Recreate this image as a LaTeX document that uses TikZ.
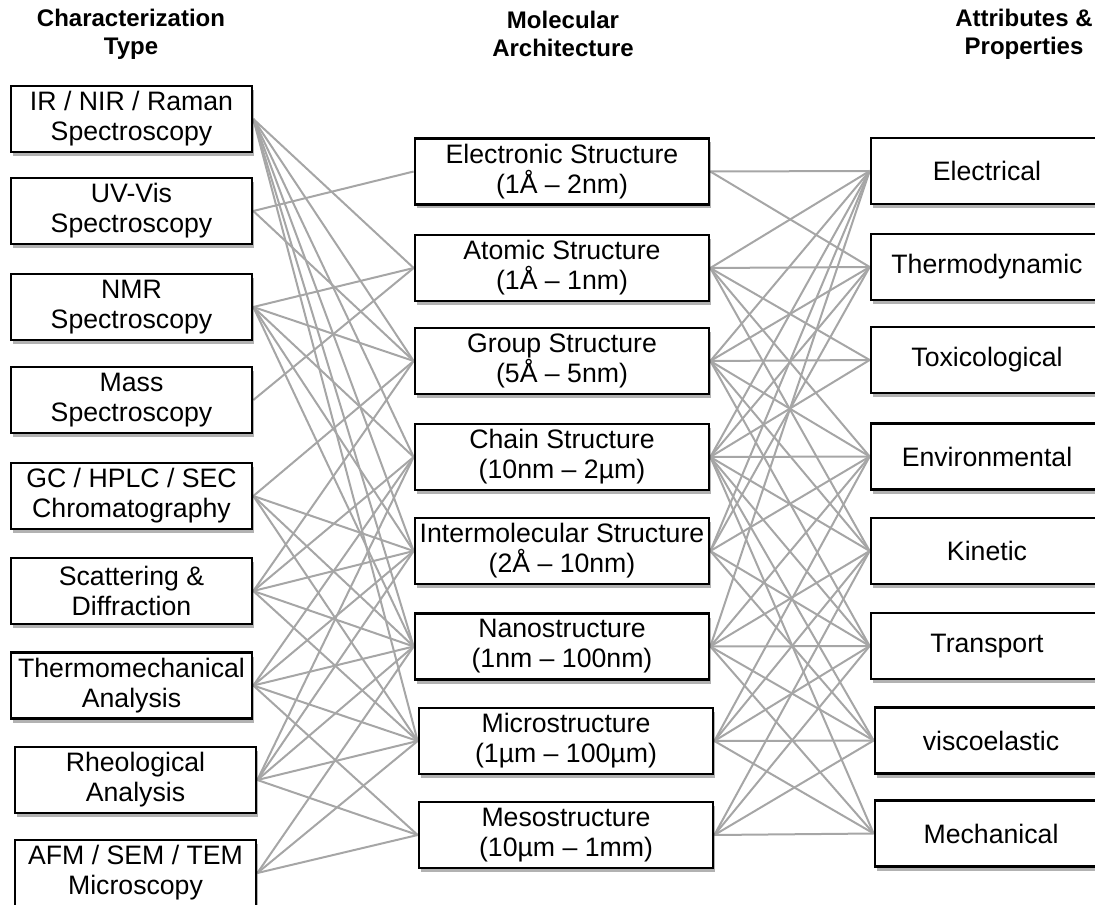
\documentclass[tikz,border=0pt]{standalone}
\usepackage{fontspec}
\setmainfont{Liberation Sans}
\usetikzlibrary{shadows}
\pgfdeclarelayer{bg}
\pgfsetlayers{bg,main}
\definecolor{edgegray}{RGB}{166,166,166}
\tikzset{
  box/.style={draw=black, line width=2pt, fill=white, align=center, inner sep=0pt,
    minimum height=49.5pt, font=\fontsize{20}{22.5}\selectfont,
    drop shadow={shadow xshift=1.5pt, shadow yshift=-3pt, fill=black, opacity=0.3}},
  lbox/.style={box, minimum width=180.75pt},
  mbox/.style={box, minimum width=220.5pt},
  rbox/.style={box, minimum width=174pt},
  head/.style={align=center, font=\fontsize{18}{21}\selectfont\bfseries},
  link/.style={draw=edgegray, line width=1.5pt},
}
\begin{document}
\begin{tikzpicture}[x=0.75pt,y=-0.75pt]
\useasboundingbox (0,0) rectangle (1095,905);
\node[head] (h1) at (131,34) {Characterization\\Type};
\node[head] (h2) at (563,34) {Molecular\\Architecture};
\node[head] (h3) at (1024,34) {Attributes \&\\Properties};

\node[lbox] (L1) at (131.5,119) {IR / NIR / Raman\\Spectroscopy};
\node[lbox] (L2) at (131.5,211) {UV-Vis\\Spectroscopy};
\node[lbox] (L3) at (131.5,307) {NMR\\Spectroscopy};
\node[lbox] (L4) at (131.5,400) {Mass\\Spectroscopy};
\node[lbox] (L5) at (131.5,496) {GC / HPLC / SEC\\Chromatography};
\node[lbox] (L6) at (131.5,591) {Scattering \&\\Diffraction};
\node[lbox] (L7) at (131.5,685.5) {Thermomechanical\\Analysis};
\node[lbox] (L8) at (135.5,780) {Rheological\\Analysis};
\node[lbox] (L9) at (135.5,873) {AFM / SEM / TEM\\Microscopy};

\node[mbox] (M1) at (562,171.5) {Electronic Structure\\(1Å – 2nm)};
\node[mbox] (M2) at (562,268) {Atomic Structure\\(1Å – 1nm)};
\node[mbox] (M3) at (562,361) {Group Structure\\(5Å – 5nm)};
\node[mbox] (M4) at (562,457) {Chain Structure\\(10nm – 2µm)};
\node[mbox] (M5) at (562,551) {Intermolecular Structure\\(2Å – 10nm)};
\node[mbox] (M6) at (562,646.5) {Nanostructure\\(1nm – 100nm)};
\node[mbox] (M7) at (566,741) {Microstructure\\(1µm – 100µm)};
\node[mbox] (M8) at (566,835) {Mesostructure\\(10µm – 1mm)};

\node[rbox] (R1) at (987,171) {Electrical};
\node[rbox] (R2) at (987,267) {Thermodynamic};
\node[rbox] (R3) at (987,360) {Toxicological};
\node[rbox] (R4) at (987,456.5) {Environmental};
\node[rbox] (R5) at (987,551) {Kinetic};
\node[rbox] (R6) at (987,646) {Transport};
\node[rbox] (R7) at (991,740.5) {viscoelastic};
\node[rbox] (R8) at (991,833.5) {Mechanical};

\begin{pgfonlayer}{bg}
\foreach \a/\b in {L1/M2,L1/M3,L1/M4,L1/M5,L1/M6,L1/M7,
  L2/M1,L2/M3,
  L3/M2,L3/M3,L3/M4,L3/M5,L3/M6,
  L4/M2,
  L5/M3,L5/M5,L5/M6,L5/M7,
  L6/M3,L6/M4,L6/M5,L6/M6,L6/M7,
  L7/M4,L7/M5,L7/M6,L7/M7,L7/M8,
  L8/M4,L8/M5,L8/M6,L8/M7,L8/M8,
  L9/M6,L9/M7,L9/M8}
  \draw[link] (\a.east) -- (\b.west);
\foreach \a/\b in {M1/R1,M1/R2,
  M2/R1,M2/R2,M2/R3,M2/R4,M2/R5,
  M3/R1,M3/R2,M3/R3,M3/R4,M3/R5,M3/R6,
  M4/R1,M4/R2,M4/R3,M4/R4,M4/R5,M4/R6,M4/R7,M4/R8,
  M5/R1,M5/R2,M5/R4,M5/R6,M5/R7,
  M6/R1,M6/R4,M6/R5,M6/R6,M6/R7,M6/R8,
  M7/R4,M7/R5,M7/R6,M7/R7,M7/R8,
  M8/R5,M8/R6,M8/R7,M8/R8}
  \draw[link] (\a.east) -- (\b.west);
\end{pgfonlayer}
\end{tikzpicture}
\end{document}
